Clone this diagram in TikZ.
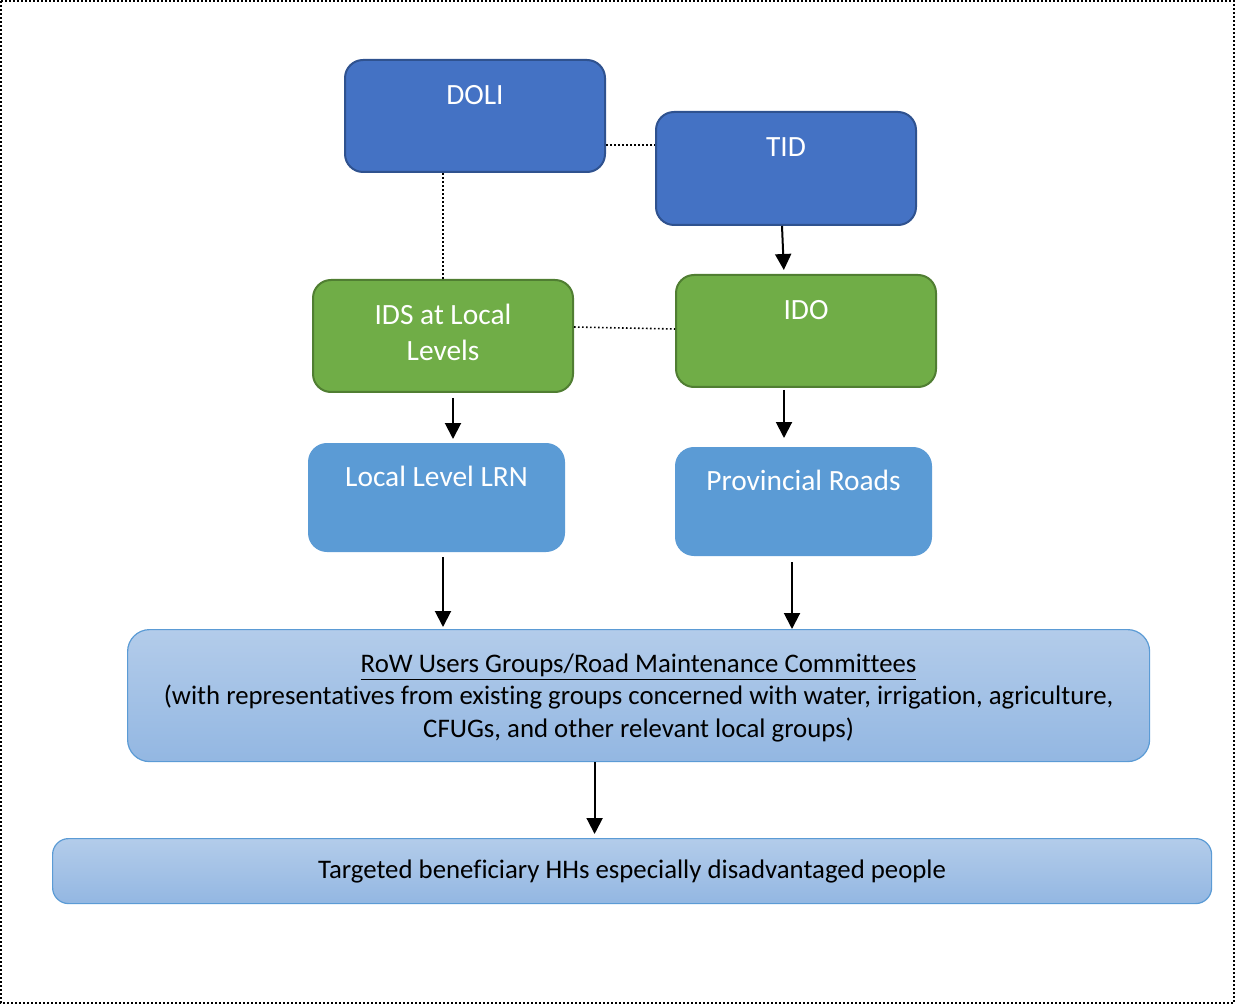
\documentclass[tikz,border=0pt]{standalone}
\usepackage{fontspec}
\setmainfont{Carlito}[Ligatures=NoCommon]
\usetikzlibrary{arrows.meta}
\definecolor{dkblue}{HTML}{4472C4}
\definecolor{dkblueline}{HTML}{2F528F}
\definecolor{grn}{HTML}{70AD47}
\definecolor{grnline}{HTML}{507E32}
\definecolor{ltblue}{HTML}{5B9BD5}
\definecolor{shtop}{HTML}{B3CCEA}
\definecolor{shbot}{HTML}{93B7E2}
\begin{document}
\begin{tikzpicture}[x=0.5pt,y=-0.5pt,
  box/.style={anchor=north west,inner sep=0pt,rounded corners=9pt,line width=1pt,
    align=center,font=\fontsize{14.7}{18}\selectfont},
  topbox/.style={box,fill=dkblue,draw=dkblueline,text=white,minimum width=130pt,
    text height=22.25pt,text depth=33.75pt},
  midbox/.style={box,fill=grn,draw=grnline,text=white,minimum width=130pt,
    text height=22.25pt,text depth=33.75pt},
  roadbox/.style={box,fill=ltblue,draw=ltblue,text=white,minimum width=127.5pt,
    text height=21.25pt,text depth=32.25pt},
  grpbox/.style={box,top color=shtop,bottom color=shbot,draw=ltblue,line width=0.6pt,
    font=\fontsize{13.4}{16.25}\selectfont},
  dotline/.style={line width=0.8pt,dash pattern=on 0.8pt off 1.2pt},
  arr/.style={line width=1pt,-{Triangle[width=8pt,length=8pt]}}]
\useasboundingbox (0,0) rectangle (1236,1005);
\draw[line width=1pt,dash pattern=on 1pt off 1pt] (1,1) rectangle (1234,1003);
% upper level
\node[topbox] (doli) at (344,59) {DOLI};
\node[topbox,text depth=34.25pt] (tid) at (655,111) {TID};
\node[midbox,text height=40.25pt,text depth=15.75pt] (ids) at (312,279) {IDS at Local\\Levels};
\node[midbox] (ido) at (675,274) {IDO};
\node[roadbox] (lrn) at (308,443) {Local Level LRN};
\node[roadbox] (prov) at (675,447) {Provincial Roads};
% groups
\node[grpbox,minimum width=511pt,text height=53.8pt,text depth=12.2pt,rounded corners=11pt] (row) at (127,629)
  {\underline{RoW Users Groups/Road Maintenance Committees}\\
   (with representatives from existing groups concerned with water, irrigation, agriculture,\\
   CFUGs, and other relevant local groups)};
\node[grpbox,minimum width=579.5pt,text height=19.8pt,text depth=12.7pt,rounded corners=8pt] (hh) at (52,838)
  {Targeted beneficiary HHs especially disadvantaged people};
% links
\draw[dotline] (doli.east |- 0,145) -- (tid.west |- 0,145);
\draw[dotline] (ids.north) -- (ids.north |- doli.south);
\draw[dotline] (ids.east |- 0,327) -- (ido.west |- 0,329);
\draw[arr,shorten >=2pt] ([xshift=-2pt]tid.south) -- ([xshift=-11pt]ido.north);
\draw[arr,shorten <=2.5pt,shorten >=2pt] ([xshift=5pt]ids.south) -- ([xshift=5pt]ids.south |- lrn.north);
\draw[arr,shorten <=1pt,shorten >=4.5pt] ([xshift=-11pt]ido.south) -- ([xshift=-11pt]ido.south |- prov.north);
\draw[arr,shorten <=2.5pt,shorten >=1pt] ([xshift=3.25pt]lrn.south) -- ([xshift=3.25pt]lrn.south |- row.north);
\draw[arr,shorten <=3pt] ([xshift=-5.75pt]prov.south) -- ([xshift=-5.75pt]prov.south |- row.north);
\draw[arr,shorten >=2pt] ([xshift=-22pt]row.south) -- ([xshift=-22pt]row.south |- hh.north);
\end{tikzpicture}
\end{document}
